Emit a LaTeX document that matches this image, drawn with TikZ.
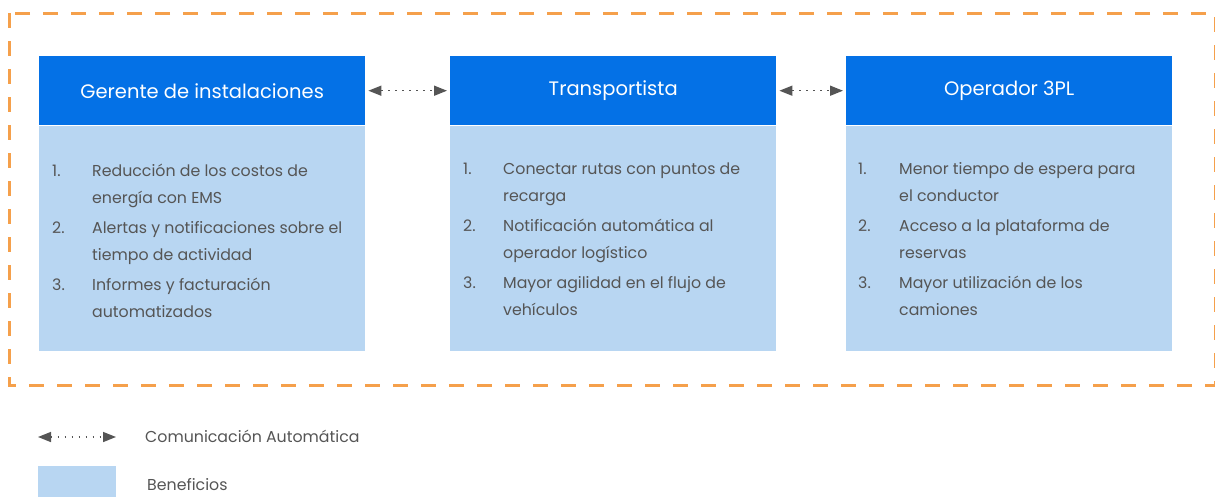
\documentclass[tikz,border=0pt]{standalone}
\usepackage{fontspec}
\setmainfont{Poppins}
\usepackage{xcolor}
\usepackage{tikz}
\usetikzlibrary{arrows.meta, positioning}
\definecolor{hdrblue}{HTML}{0471E6}
\definecolor{benblue}{HTML}{B8D6F2}
\definecolor{frameorange}{HTML}{F5A04B}
\definecolor{txtgray}{HTML}{555555}
\definecolor{arrgray}{HTML}{555555}
\tikzset{
  hdr/.style={rectangle, fill=hdrblue, minimum width=326pt, minimum height=69pt, inner sep=0pt, text=white, font=\fontsize{19.5}{22}\selectfont},
  benbox/.style={rectangle, fill=benblue, minimum width=326pt, minimum height=225pt, inner sep=0pt},
  bentext/.style={anchor=base west, inner sep=0pt, text=txtgray, font=\fontsize{15.8}{27}\selectfont},
  comm/.style={{Triangle[length=13pt, width=10pt]}-{Triangle[length=13pt, width=10pt]}, arrgray, line width=1.5pt, dash pattern=on 1.5pt off 5.5pt},
  legtext/.style={anchor=west, inner sep=0pt, text=txtgray, font=\fontsize{15.8}{18}\selectfont},
}

\begin{document}
\begin{tikzpicture}[x=1pt, y=-1pt]
\useasboundingbox (0,0) rectangle (1215,496);
\draw[frameorange, line width=3pt, dash pattern=on 15pt off 13pt] (9,13) rectangle (1215.5,385);

\node[hdr, anchor=north west] (gerente) at (39,56) {Gerente de instalaciones};
\node[benbox, below=0pt of gerente] (bgerente) {};
\node[hdr, anchor=north west] (transp) at (450,56) {Transportista};
\node[benbox, below=0pt of transp] (btransp) {};
\node[hdr, anchor=north west] (oper) at (846,56) {Operador 3PL};
\node[benbox, below=0pt of oper] (boper) {};

\node[bentext] (lgerente) at (52,176) {\begin{tabular}[t]{@{}p{40pt}@{}l@{}}
1. & Reducción de los costos de\\ & energía con EMS\\[3pt]
2. & Alertas y notificaciones sobre el\\ & tiempo de actividad\\[3pt]
3. & Informes y facturación\\ & automatizados
\end{tabular}};
\node[bentext] (ltransp) at (463,174) {\begin{tabular}[t]{@{}p{40pt}@{}l@{}}
1. & Conectar rutas con puntos de\\ & recarga\\[3pt]
2. & Notificación automática al\\ & operador logístico\\[3pt]
3. & Mayor agilidad en el flujo de\\ & vehículos
\end{tabular}};
\node[bentext] (loper) at (858,174) {\begin{tabular}[t]{@{}p{41pt}@{}l@{}}
1. & Menor tiempo de espera para\\ & el conductor\\[3pt]
2. & Acceso a la plataforma de\\ & reservas\\[3pt]
3. & Mayor utilización de los\\ & camiones
\end{tabular}};

\coordinate (g1) at ([xshift=3pt]gerente.east);
\coordinate (t1) at ([xshift=-3pt]transp.west);
\coordinate (t2) at ([xshift=3pt]transp.east);
\coordinate (o1) at ([xshift=-3pt]oper.west);
\draw[comm] (g1) -- (t1);
\draw[comm] (t2) -- (o1);

% leyenda
\coordinate (la) at (38,437);
\coordinate (lb) at (116,437);
\draw[comm] (la) -- (lb);
\node[legtext] (lcomm) at (145,436) {Comunicación Automática};
\node[rectangle, fill=benblue, anchor=north west, minimum width=78pt, minimum height=32pt, inner sep=0pt] (lben) at (38,466) {};
\node[legtext] (lbent) at (147,485) {Beneficios};
\end{tikzpicture}
\end{document}
